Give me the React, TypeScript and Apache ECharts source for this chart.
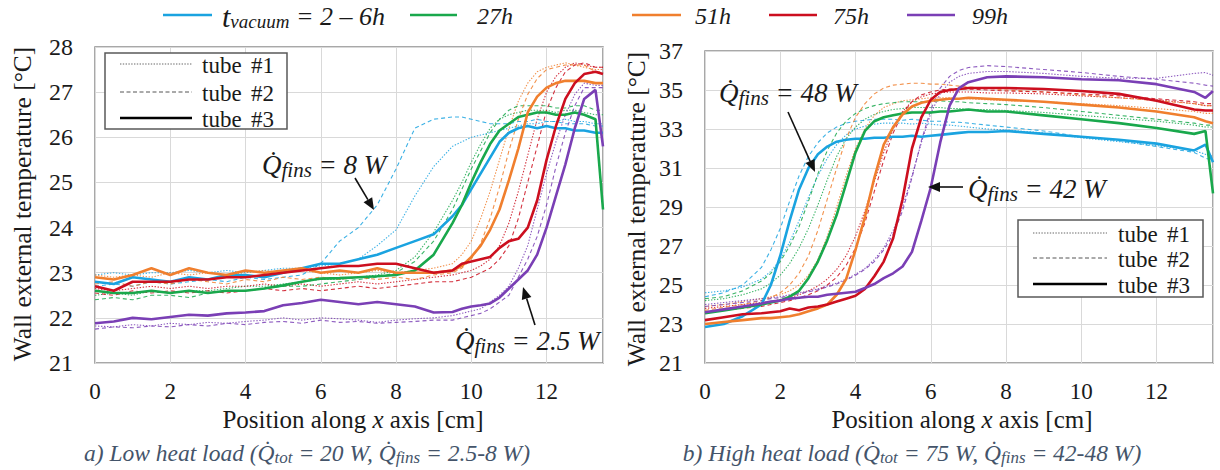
import React, { useEffect, useRef } from 'react';
import * as echarts from 'echarts';

// ---------- DATA ----------
// Left panel (low heat load) positions [cm]
const XS_L = [0,0.5,1,1.5,2,2.5,3,3.5,4,4.5,5,5.5,6,6.5,7,7.5,8,8.5,9,
  9.5,9.75,10,10.25,10.5,10.75,11,11.25,11.5,11.75,12,12.25,12.5,12.75,13,
  13.3,13.5];

const L_BLUE_1 = [22.95,23.0,22.95,23.0,23.0,23.05,23.0,23.05,23.0,23.05, 23.1,23.1,23.15,23.2,23.3,23.6,23.95,24.7,25.35,
  25.8,25.9,26.0,26.05,26.1,26.15,26.2,26.25,26.3,26.3, 26.35,26.35,26.4,26.35,26.35, 26.3,26.3];
const L_BLUE_2 = [22.7,22.75,22.7,22.8,22.75,22.8,22.85,22.8,22.9,22.85, 22.9,22.95,23.2,23.7,24.0,24.5,25.3,26.2,26.4,
  26.45,26.45,26.4,26.35,26.3,26.3,26.3,26.35,26.35,26.4, 26.35,26.35,26.3,26.3,26.3, 26.25,26.25];
const L_BLUE_3 = [22.8,22.75,22.9,22.85,22.8,22.9,22.85,22.95,22.95,22.9, 23.0,23.1,23.2,23.2,23.3,23.4,23.55,23.7,23.85,
  24.25,24.5,24.85,25.2,25.55,25.9,26.1,26.2,26.25,26.2, 26.25,26.2,26.2,26.15,26.15, 26.1,26.1];

const L_GREEN_1 = [22.5,22.55,22.5,22.6,22.55,22.6,22.6,22.65,22.7,22.7, 22.75,22.8,22.85,22.85,22.9,22.95,23.05,23.35,23.9,
  24.6,25.0,25.45,25.85,26.2,26.4,26.5,26.55,26.6,26.6, 26.6,26.55,26.6,26.6,26.55, 26.5,26.5];
const L_GREEN_2 = [22.4,22.45,22.4,22.5,22.5,22.45,22.55,22.6,22.6,22.65, 22.7,22.7,22.75,22.8,22.85,22.9,23.0,23.25,23.7,
  24.4,24.85,25.3,25.7,26.1,26.4,26.6,26.7,26.7,26.7, 26.7,26.65,26.65,26.7,26.7, 26.6,26.6];
const L_GREEN_3 = [22.6,22.55,22.55,22.6,22.55,22.6,22.55,22.6,22.6,22.65, 22.72,22.8,22.87,22.88,22.9,22.92,22.95,23.05,23.4,
  24.1,24.5,25.0,25.45,25.85,26.15,26.3,26.45,26.5,26.55, 26.55,26.5,26.5,26.55,26.5, 26.4,24.4];

const L_ORANGE_1 = [22.95,22.9,22.95,22.9,23.0,22.95,23.0,22.95,23.0,23.05, 23.0,23.05,23.0,22.95,23.0,23.05,23.0,23.05,23.1,
  23.2,23.4,23.7,24.2,24.8,25.5,26.2,26.8,27.2,27.45, 27.55,27.6,27.65,27.6,27.55, 27.5,27.5];
const L_ORANGE_2 = [22.75,22.8,22.7,22.8,22.75,22.85,22.8,22.75,22.85,22.8, 22.9,22.85,22.9,22.85,22.9,22.85,22.9,22.85,22.95,
  23.0,23.1,23.3,23.65,24.2,24.9,25.7,26.4,26.95,27.3, 27.5,27.55,27.6,27.6,27.6, 27.45,27.45];
const L_ORANGE_3 = [22.9,22.85,22.95,23.1,22.95,23.1,23.0,22.95,23.05,23.0, 23.05,23.1,23.0,23.05,23.0,23.1,23.0,23.0,23.0,
  23.05,23.15,23.35,23.6,23.95,24.4,25.05,25.75,26.55,26.9, 27.1,27.2,27.25,27.25,27.25, 27.2,27.2];

const L_RED_1 = [22.65,22.6,22.65,22.7,22.65,22.7,22.65,22.7,22.7,22.75, 22.7,22.75,22.7,22.75,22.8,22.75,22.8,22.85,22.9,
  22.95,23.0,23.05,23.15,23.3,23.6,24.1,24.8,25.6,26.4, 27.0,27.35,27.55,27.65,27.6, 27.55,27.55];
const L_RED_2 = [22.55,22.5,22.6,22.55,22.6,22.55,22.6,22.55,22.6,22.65, 22.6,22.65,22.6,22.65,22.7,22.65,22.7,22.75,22.8,
  22.8,22.85,22.9,23.0,23.1,23.3,23.6,24.2,25.0,25.8, 26.6,27.1,27.45,27.6,27.65, 27.55,27.55];
const L_RED_3 = [22.7,22.6,22.8,22.8,22.8,22.85,22.85,22.9,22.9,22.95, 23.0,23.05,23.1,23.15,23.15,23.2,23.2,23.1,23.0,
  23.05,23.2,23.25,23.3,23.35,23.55,23.7,23.75,24.0,24.6, 25.5,26.25,26.85,27.2,27.4, 27.45,27.4];

const L_PURPLE_1 = [21.82,21.8,21.85,21.82,21.88,21.85,21.9,21.88,21.92,21.95, 22.0,21.95,22.0,21.98,21.95,21.9,21.95,21.98,22.0,
  22.05,22.1,22.15,22.2,22.35,22.5,22.7,23.1,23.6,24.4, 25.2,25.9,26.5,26.95,27.2, 27.15,27.15];
const L_PURPLE_2 = [21.75,21.8,21.78,21.82,21.8,21.85,21.82,21.88,21.85,21.9, 21.92,21.88,21.95,21.9,21.92,21.88,21.9,21.92,21.95,
  21.95,22.0,22.05,22.1,22.2,22.35,22.5,22.9,23.3,23.8, 24.5,25.35,26.1,26.7,27.1, 27.1,27.1];
const L_PURPLE_3 = [21.88,21.92,22.0,21.97,22.02,22.07,22.05,22.1,22.12,22.15, 22.28,22.33,22.4,22.35,22.3,22.35,22.3,22.25,22.12,
  22.13,22.2,22.25,22.28,22.32,22.45,22.65,22.85,23.05,23.4, 24.0,24.7,25.4,26.2,26.85, 27.05,25.8];

// Right panel (high heat load) positions [cm]
const XS_R = [0,0.5,1,1.5,
  1.75,2,2.25,2.5,2.75,3,3.25,3.5,3.75,4, 4.25,4.5,4.75,5,5.25,5.5,5.75,6,6.25,6.5, 6.75,7,
  7.5,8,9,10,11,12,13,
  13.3,13.5];

const R_BLUE_1 = [24.6,24.7,24.9,25.3, 25.7,26.3,27.2,28.3,29.5,30.6,31.5,32.2,32.7,33.0, 33.15,33.25,33.3,33.3,33.3,33.25,33.3,33.25,33.2,33.2, 33.15,33.1,
  33.0,32.95,32.8,32.55,32.35,32.15,31.9, 31.7,31.6];
const R_BLUE_2 = [24.4,24.6,25.0,25.9, 26.8,27.9,29.3,30.6,31.6,32.3,32.8,33.1,33.3,33.4, 33.45,33.5,33.5,33.5,33.45,33.5,33.45,33.4,33.4,33.35, 33.35,33.3,
  33.2,33.1,32.9,32.6,32.4,32.1,31.8, 31.5,31.4];
const R_BLUE_3 = [22.85,23.0,23.4,24.0, 25.0,26.5,28.3,29.9,31.0,31.7,32.1,32.35,32.45,32.5, 32.5,32.55,32.55,32.6,32.6,32.65,32.6,32.65,32.7,32.75, 32.8,32.85,
  32.85,32.9,32.75,32.6,32.45,32.25,31.9, 32.2,31.3];

const R_GREEN_1 = [24.2,24.3,24.5,24.8, 25.1,25.5,26.1,26.9,27.9,29.1,30.4,31.6,32.5,33.1, 33.5,33.75,33.9,34.0,34.05,34.1,34.1,34.1,34.1,34.05, 34.05,34.0,
  34.0,33.95,33.85,33.7,33.55,33.4,33.2, 33.1,33.1];
const R_GREEN_2 = [24.3,24.4,24.7,25.2, 25.6,26.2,27.0,28.0,29.3,30.7,31.9,32.8,33.4,33.8, 34.05,34.2,34.3,34.35,34.4,34.4,34.4,34.4,34.45,34.4, 34.4,34.35,
  34.3,34.25,34.1,33.9,33.7,33.5,33.3, 33.2,33.2];
const R_GREEN_3 = [23.55,23.7,23.85,24.0, 24.1,24.2,24.4,24.7,25.35,26.2,27.3,28.6,30.2,31.8, 32.9,33.4,33.6,33.7,33.8,33.85,33.85,33.85,33.9,33.9, 33.95,34.0,
  33.9,33.9,33.7,33.5,33.3,33.05,32.75, 32.9,29.7];

const R_ORANGE_1 = [23.9,24.0,24.15,24.3, 24.4,24.5,24.7,25.0,25.5,26.3,27.5,29.0,30.6,32.0, 33.0,33.7,34.1,34.3,34.45,34.5,34.55,34.6,34.6,34.6, 34.55,34.55,
  34.5,34.45,34.4,34.3,34.2,34.05,33.9, 33.8,33.8];
const R_ORANGE_2 = [23.7,23.85,24.0,24.2, 24.35,24.6,25.0,25.6,26.5,27.8,29.4,31.0,32.5,33.6, 34.3,34.8,35.1,35.25,35.3,35.35,35.35,35.3,35.3,35.25, 35.2,35.15,
  35.1,35.0,34.9,34.75,34.6,34.45,34.3, 34.2,34.2];
const R_ORANGE_3 = [23.0,23.1,23.2,23.3, 23.3,23.35,23.4,23.5,23.65,23.8,24.0,24.5,25.3,26.8, 28.5,30.5,32.2,33.1,33.75,34.15,34.35,34.45,34.5,34.55, 34.55,34.6,
  34.55,34.5,34.4,34.25,34.1,33.9,33.6, 33.4,33.3];

const R_RED_1 = [23.8,23.9,24.0,24.1, 24.15,24.25,24.35,24.5,24.7,24.95,25.3,25.8,26.5,27.5, 28.8,30.3,31.8,33.0,33.9,34.4,34.65,34.8,34.85,34.9, 34.9,34.9,
  34.85,34.85,34.8,34.7,34.6,34.5,34.3, 34.2,34.2];
const R_RED_2 = [23.6,23.7,23.8,23.9, 24.0,24.1,24.2,24.35,24.5,24.7,25.0,25.4,26.0,26.9, 28.2,29.8,31.4,32.8,33.8,34.4,34.75,34.9,35.0,35.05, 35.05,35.05,
  35.0,34.95,34.9,34.8,34.7,34.55,34.4, 34.3,34.3];
const R_RED_3 = [23.2,23.35,23.5,23.55, 23.6,23.65,23.8,23.7,23.85,23.9,24.0,24.15,24.3,24.45, 24.8,25.45,26.2,27.4,29.4,32.0,33.6,34.5,34.9,35.0, 35.05,35.1,
  35.1,35.1,35.05,34.95,34.8,34.45,34.0, 33.95,33.95];

const R_PURPLE_1 = [24.0,24.1,24.2,24.3, 24.35,24.4,24.5,24.6,24.7,24.8,24.95,25.1,25.3,25.55, 25.85,26.3,26.9,27.8,29.0,30.6,32.3,33.8,34.8,35.4, 35.7,35.85,
  35.95,35.95,35.85,35.7,35.6,35.6,35.85, 35.9,35.75];
const R_PURPLE_2 = [23.9,24.0,24.1,24.2, 24.3,24.35,24.45,24.55,24.65,24.75,24.9,25.05,25.25,25.5, 25.8,26.2,26.8,27.6,28.8,30.5,32.4,34.0,35.1,35.7, 36.0,36.15,
  36.25,36.2,36.05,35.9,35.7,35.55,35.35, 35.25,35.2];
const R_PURPLE_3 = [23.6,23.75,23.9,24.05, 24.15,24.2,24.3,24.35,24.4,24.4,24.5,24.55,24.6,24.65, 24.85,25.05,25.35,25.6,25.95,26.7,28.3,30.0,32.3,34.2, 35.1,35.4,
  35.65,35.7,35.65,35.55,35.5,35.3,34.9, 34.6,34.95];

const LEGEND_LABELS = ['2 – 6h', '27h', '51h', '75h', '99h'];
const TUBE_NUMBERS = ['#1', '#2', '#3'];
const X_TICKS_MAX = 13.5;

// ---------- STYLE ----------
const SERIF = 'Liberation Serif, DejaVu Serif, serif';
const COLORS = ['#1aa3e0', '#19a84c', '#f07f2e', '#cc0f1f', '#7a3fb5'];
const TEXT = '#1a1a1a';
const CAPTION = '#44546a';

const LEFT_SETS = [
  [L_BLUE_1, L_BLUE_2, L_BLUE_3],
  [L_GREEN_1, L_GREEN_2, L_GREEN_3],
  [L_ORANGE_1, L_ORANGE_2, L_ORANGE_3],
  [L_RED_1, L_RED_2, L_RED_3],
  [L_PURPLE_1, L_PURPLE_2, L_PURPLE_3],
];
const RIGHT_SETS = [
  [R_BLUE_1, R_BLUE_2, R_BLUE_3],
  [R_GREEN_1, R_GREEN_2, R_GREEN_3],
  [R_ORANGE_1, R_ORANGE_2, R_ORANGE_3],
  [R_RED_1, R_RED_2, R_RED_3],
  [R_PURPLE_1, R_PURPLE_2, R_PURPLE_3],
];

function mkSeries(xs: number[], ys: number[], color: string, tube: number, grid: number, name: string) {
  const data = xs.map((x, i) => [x, ys[i]]);
  let lineStyle: any;
  if (tube === 3) lineStyle = { color, width: 2.6 };
  else if (tube === 2) lineStyle = { color, width: 1.1, type: [4, 3], opacity: 0.85 };
  else lineStyle = { color, width: 1.1, type: [1.4, 1.6], opacity: 0.85 };
  return {
    type: 'line', name, xAxisIndex: grid, yAxisIndex: grid, data,
    symbol: 'none', silent: true, lineStyle, z: tube === 3 ? 3 : 2,
  };
}

const series: any[] = [];
[[LEFT_SETS, XS_L, 0], [RIGHT_SETS, XS_R, 1]].forEach(([sets, xs, g]: any) => {
  for (const tube of [1, 2, 3]) {
    sets.forEach((set: number[][], ci: number) => {
      series.push(mkSeries(xs, set[tube - 1], COLORS[ci], tube, g, `${LEGEND_LABELS[ci]} tube ${tube}`));
    });
  }
});

const axisLabel = { fontSize: 23, fontFamily: SERIF, color: TEXT };

function xAxis(gridIndex: number) {
  return {
    type: 'value', gridIndex, min: 0, max: X_TICKS_MAX, interval: 2,
    axisLine: { show: false }, axisTick: { show: false },
    splitLine: { show: true, lineStyle: { color: '#d9d9d9', width: 1 } },
    axisLabel: { ...axisLabel, margin: 17, formatter: (v: number) => (v > 13 ? '' : String(v)) },
  };
}
function yAxis(gridIndex: number, min: number, max: number, interval: number) {
  return {
    type: 'value', gridIndex, min, max, interval,
    axisLine: { show: false }, axisTick: { show: false },
    splitLine: { show: true, lineStyle: { color: '#d9d9d9', width: 1 } },
    axisLabel: { ...axisLabel, fontSize: 24, margin: 22 },
  };
}

function arrow(x1: number, y1: number, x2: number, y2: number) {
  const dx = x2 - x1, dy = y2 - y1, L = Math.hypot(dx, dy);
  const ux = dx / L, uy = dy / L, hl = 12, hw = 5;
  const bx = x2 - ux * hl, by = y2 - uy * hl;
  return [
    { type: 'line', z: 100, shape: { x1, y1, x2: bx, y2: by }, style: { stroke: '#111', lineWidth: 1.6 } },
    { type: 'polygon', z: 100, shape: { points: [[x2, y2], [bx - uy * hw, by + ux * hw], [bx + uy * hw, by - ux * hw]] }, style: { fill: '#111' } },
  ];
}

function qText(x: number, y: number, value: string) {
  return {
    type: 'text', x, y, z: 100,
    style: {
      text: `{q|Q\u0307}{s|fins}{e| = ${value}}`,
      align: 'left', verticalAlign: 'middle',
      rich: {
        q: { fontSize: 27, fontStyle: 'italic', fontFamily: SERIF, fill: TEXT, lineHeight: 30 },
        s: { fontSize: 21, fontStyle: 'italic', fontFamily: SERIF, fill: TEXT, lineHeight: 18, verticalAlign: 'bottom' },
        e: { fontSize: 27, fontStyle: 'italic', fontFamily: SERIF, fill: TEXT, lineHeight: 30 },
      },
    },
  };
}

function tubeLegend(x: number, y: number, w: number, h: number, lx1: number, lx2: number, tx: number, ys: number[]) {
  const els: any[] = [
    { type: 'rect', z: 90, shape: { x, y, width: w, height: h }, style: { fill: '#fff', stroke: '#595959', lineWidth: 1.5 } },
  ];
  const styles = [
    { stroke: '#666', lineWidth: 1, lineDash: [1.4, 1.4] },
    { stroke: '#555', lineWidth: 1, lineDash: [4, 2.5] },
    { stroke: '#000', lineWidth: 2.6 },
  ];
  ys.forEach((yy, i) => {
    els.push({ type: 'line', z: 91, shape: { x1: lx1, y1: yy, x2: lx2, y2: yy }, style: styles[i] });
    els.push({ type: 'text', z: 91, x: tx, y: yy + 1, style: { text: 'tube', fontSize: 23, fontFamily: SERIF, fill: TEXT, align: 'left', verticalAlign: 'middle' } });
    els.push({ type: 'text', z: 91, x: tx + 49, y: yy + 1, style: { text: TUBE_NUMBERS[i], fontSize: 23, fontFamily: SERIF, fill: TEXT, align: 'left', verticalAlign: 'middle' } });
  });
  return els;
}

function caption(x: number, y: number, label: string, tot: string, fins: string) {
  return {
    type: 'text', x, y,
    style: {
      text: `{c|${label} (}{c|Q\u0307}{s|tot}{c| = ${tot}, }{c|Q\u0307}{s|fins}{c| = ${fins})}`,
      align: 'center', verticalAlign: 'middle',
      rich: {
        c: { fontSize: 23.5, fontStyle: 'italic', fontFamily: SERIF, fill: CAPTION, lineHeight: 26 },
        s: { fontSize: 17, fontStyle: 'italic', fontFamily: SERIF, fill: CAPTION, lineHeight: 15, verticalAlign: 'bottom' },
      },
    },
  };
}

// top legend
const TOP_LEGEND_LINES = [[163, 212], [410, 457], [632, 681], [769, 817], [907, 955]];
const TOP_LEGEND_TEXT_X = [222, 477, 695, 833, 972];
const topLegend: any[] = [];
TOP_LEGEND_LINES.forEach(([a, b], i) => {
  topLegend.push({ type: 'line', shape: { x1: a, y1: 15, x2: b, y2: 15 }, style: { stroke: COLORS[i], lineWidth: 2.5 } });
  if (i === 0) {
    topLegend.push({
      type: 'text', x: TOP_LEGEND_TEXT_X[i], y: 16,
      style: {
        text: `{t|t}{v|vacuum}{e| = ${LEGEND_LABELS[i]}}`, align: 'left', verticalAlign: 'middle',
        rich: {
          t: { fontSize: 30, fontStyle: 'italic', fontFamily: SERIF, fill: TEXT, lineHeight: 30 },
          v: { fontSize: 19, fontStyle: 'italic', fontFamily: SERIF, fill: TEXT, lineHeight: 16, verticalAlign: 'bottom' },
          e: { fontSize: 26, fontStyle: 'italic', fontFamily: SERIF, fill: TEXT, lineHeight: 30 },
        },
      },
    });
  } else {
    topLegend.push({ type: 'text', x: TOP_LEGEND_TEXT_X[i], y: 16, style: { text: LEGEND_LABELS[i], fontSize: 24, fontStyle: 'italic', fontFamily: SERIF, fill: TEXT, align: 'left', verticalAlign: 'middle' } });
  }
});

const axisNames: any[] = [
  { type: 'text', x: 22, y: 204, rotation: Math.PI / 2, style: { text: 'Wall external temperature [°C]', fontSize: 25.5, fontFamily: SERIF, fill: TEXT, align: 'center', verticalAlign: 'middle' } },
  { type: 'text', x: 636, y: 209, rotation: Math.PI / 2, style: { text: 'Wall external temperature [°C]', fontSize: 25.5, fontFamily: SERIF, fill: TEXT, align: 'center', verticalAlign: 'middle' } },
  ...[353, 962].map((x) => ({
    type: 'text', x, y: 419,
    style: {
      text: '{a|Position along }{i|x}{a| axis [cm]}', align: 'center', verticalAlign: 'middle',
      rich: {
        a: { fontSize: 25, fontFamily: SERIF, fill: TEXT, lineHeight: 25 },
        i: { fontSize: 25, fontFamily: SERIF, fontStyle: 'italic', fill: TEXT, lineHeight: 25 },
      },
    },
  })),
];

const graphic = [
  ...topLegend,
  ...axisNames,
  ...tubeLegend(105, 53, 182, 76, 120, 192, 202, [64, 92, 118]),
  ...tubeLegend(1018, 220, 185, 77, 1033, 1107, 1118, [233, 258, 284]),
  qText(262, 165, '8 W'),
  ...arrow(355, 178, 374, 210),
  qText(455, 341, '2.5 W'),
  ...arrow(535, 325, 523, 287),
  qText(719, 93, '48 W'),
  ...arrow(788, 112, 815, 172),
  qText(968, 189, '42 W'),
  ...arrow(963, 187, 928, 187),
  caption(307, 453, 'a) Low heat load', '20 W', '2.5-8 W'),
  caption(912, 453, 'b) High heat load', '75 W', '42-48 W'),
];

const option: any = {
  animation: false,
  backgroundColor: '#fff',
  grid: [
    { left: 95, top: 47, width: 508, height: 316, show: true, borderColor: '#8c8c8c', borderWidth: 1.5, backgroundColor: 'transparent' },
    { left: 705, top: 51, width: 508, height: 312, show: true, borderColor: '#8c8c8c', borderWidth: 1.5, backgroundColor: 'transparent' },
  ],
  xAxis: [xAxis(0), xAxis(1)],
  yAxis: [yAxis(0, 21, 28, 1), yAxis(1, 21, 37, 2)],
  series,
  graphic,
};

export default function App() {
  const ref = useRef<HTMLDivElement>(null);
  useEffect(() => {
    const chart = echarts.init(ref.current!, null, { renderer: 'svg' });
    chart.setOption(option);
    return () => chart.dispose();
  }, []);
  return <div ref={ref} style={{ position: 'absolute', left: 0, top: 0, width: 1220, height: 470, background: '#fff' }} />;
}
